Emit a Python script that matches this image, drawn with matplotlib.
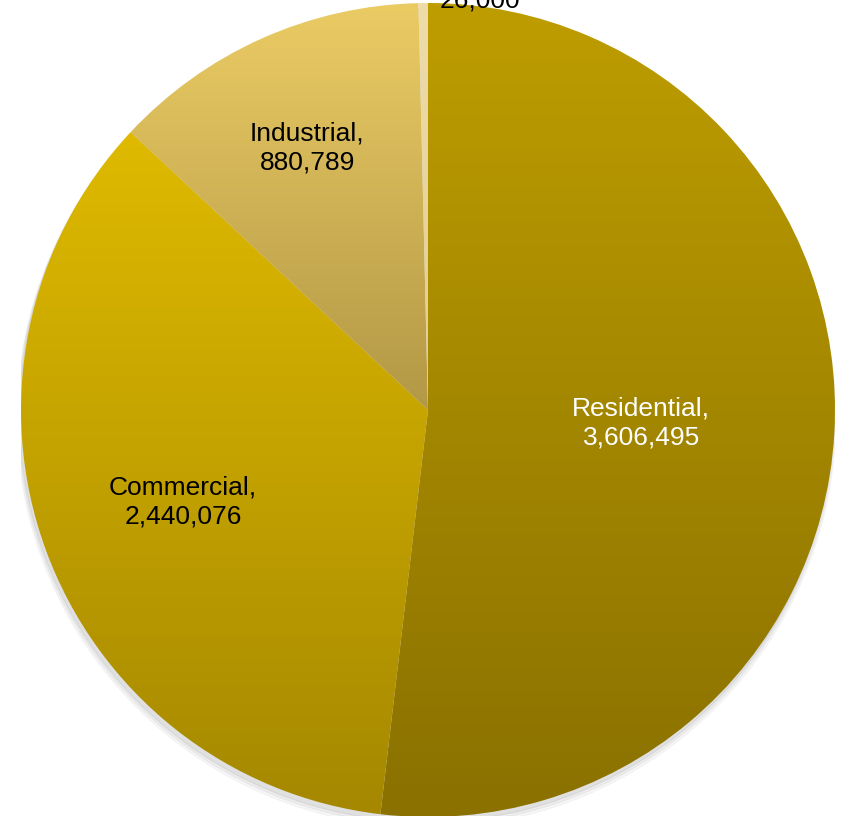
import numpy as np
import matplotlib as mpl
mpl.use('Agg')
from matplotlib import pyplot as plt
from matplotlib.colors import LinearSegmentedColormap
from matplotlib import font_manager

# data
categories = ['Residential', 'Commercial', 'Industrial', 'Other']
values = [3606495, 2440076, 880789, 26000]
value_labels = ['3,606,495', '2,440,076', '880,789', '26,000']

# gradient colours (top, bottom) for each slice
grad_top = ['#BE9D00', '#DFBA00', '#EACB64', '#EEDCAA']
grad_bottom = ['#8A7100', '#A58800', '#B39846', '#E2CC90']
text_colors = ['white', 'black', 'black', 'black']

# pick a narrow font if there is one
names = set(f.name for f in font_manager.fontManager.ttflist)
if 'Liberation Sans Narrow' in names:
    font = 'Liberation Sans Narrow'
else:
    font = 'Liberation Sans'
plt.rcParams['font.family'] = [font, 'DejaVu Sans']

fig = plt.figure(figsize=(8.42, 8.16), dpi=100)
ax = fig.add_axes([21/842, -1/816, 814/842, 814/816])
ax.set_xlim(-1, 1)
ax.set_ylim(-1, 1)
ax.set_aspect('equal')
ax.axis('off')

# soft shadow under the pie
for k, a in enumerate([0.05, 0.04, 0.03]):
    sh = plt.Circle((-0.004, -0.012 - 0.004*k), 1.0 + 0.003*k, color='black', alpha=a, zorder=0)
    ax.add_patch(sh)

wedges, _ = ax.pie(values, startangle=90, counterclock=False, radius=1.0,
                   colors=grad_top,
                   wedgeprops=dict(edgecolor='none', linewidth=0))

# vertical gradient inside each wedge
grad = np.linspace(0, 1, 256).reshape(-1, 1)
for i, w in enumerate(wedges):
    ext = w.get_path().get_extents()
    cmap = LinearSegmentedColormap.from_list('g%d' % i, [grad_top[i], grad_bottom[i]])
    im = ax.imshow(grad, cmap=cmap, aspect='auto', origin='upper',
                   extent=[ext.x0, ext.x1, ext.y0, ext.y1], zorder=2)
    im.set_clip_path(w)
    w.set_facecolor('none')
    w.set_zorder(3)

ax.set_xlim(-1, 1)
ax.set_ylim(-1, 1)

# data labels
label_pos = [(0.524, -0.032), (-0.602, -0.226), (-0.297, 0.644)]
for i in range(3):
    ax.text(label_pos[i][0], label_pos[i][1], categories[i] + ',\n' + value_labels[i],
            ha='center', va='center', fontsize=19, color=text_colors[i],
            linespacing=1.3, zorder=5)

# the small slice label sits above the pie and is cut by the figure edge
ax.text(0.128, 0.99, value_labels[3], ha='center', va='baseline', fontsize=19,
        color='black', zorder=5, clip_on=False)

fig.savefig('out.png', dpi=100)
plt.close('all')
